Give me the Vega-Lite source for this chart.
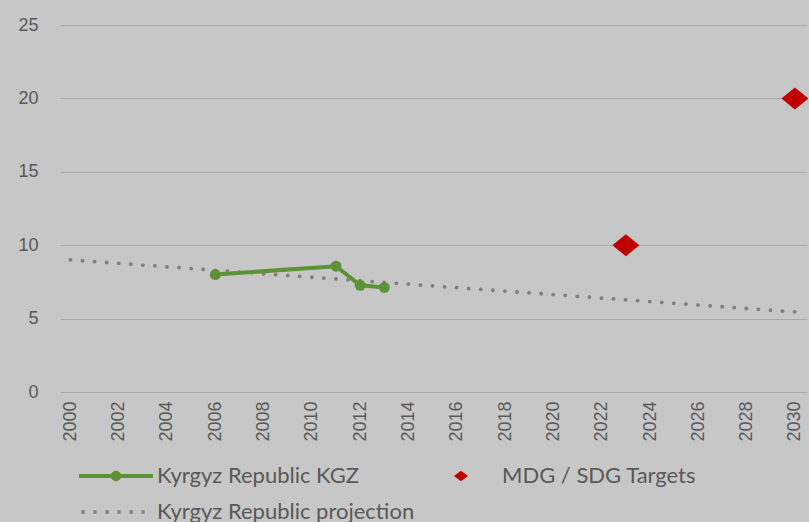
{
  "$schema": "https://vega.github.io/schema/vega-lite/v6.json",
  "width": 747,
  "height": 367,
  "autosize": {"type": "none"},
  "padding": {"left": 60, "top": 25, "right": 2, "bottom": 130},
  "background": "#c7c7c7",
  "config": {"view": {"stroke": null}, "font": "Liberation Sans"},
  "data": {
    "values": [
      {"series": "Kyrgyz Republic projection", "year": 2000, "value": 9.0},
      {"series": "Kyrgyz Republic projection", "year": 2030, "value": 5.45},
      {"series": "Kyrgyz Republic KGZ", "year": 2006, "value": 8.0},
      {"series": "Kyrgyz Republic KGZ", "year": 2011, "value": 8.57},
      {"series": "Kyrgyz Republic KGZ", "year": 2012, "value": 7.27},
      {"series": "Kyrgyz Republic KGZ", "year": 2013, "value": 7.12},
      {"series": "MDG / SDG Targets", "year": 2023, "value": 10},
      {"series": "MDG / SDG Targets", "year": 2030, "value": 20}
    ]
  },
  "encoding": {
    "x": {
      "field": "year",
      "type": "quantitative",
      "scale": {"domain": [1999.57, 2030.5], "nice": false, "zero": false},
      "axis": {
        "title": null,
        "values": [2000, 2002, 2004, 2006, 2008, 2010, 2012, 2014, 2016, 2018, 2020, 2022, 2024, 2026, 2028, 2030],
        "format": "d",
        "labelAngle": -90,
        "labelPadding": 9,
        "labelFontSize": 18,
        "labelColor": "#595959",
        "grid": false,
        "domain": false,
        "ticks": false
      }
    },
    "y": {
      "field": "value",
      "type": "quantitative",
      "scale": {"domain": [0, 25], "nice": false},
      "axis": {
        "title": null,
        "values": [0, 5, 10, 15, 20, 25],
        "labelPadding": 22,
        "labelFontSize": 18,
        "labelColor": "#595959",
        "grid": true,
        "gridColor": "#a9a9a9",
        "gridWidth": 1.2,
        "domain": false,
        "ticks": false
      }
    },
    "color": {
      "field": "series",
      "type": "nominal",
      "scale": {
        "domain": ["Kyrgyz Republic KGZ", "MDG / SDG Targets", "Kyrgyz Republic projection"],
        "range": ["#5e9237", "#c00000", "#808080"]
      },
      "legend": {
        "title": null,
        "orient": "none",
        "legendX": 19,
        "legendY": 439,
        "direction": "horizontal",
        "columns": 2,
        "padding": 0,
        "symbolSize": 5476,
        "symbolStrokeWidth": 0,
        "clipHeight": 24,
        "rowPadding": 12,
        "columnPadding": 9,
        "labelOffset": 4,
        "labelFont": "Lato",
        "labelFontSize": 22,
        "labelColor": "#595959",
        "labelLimit": 400,
        "encode": {
          "symbols": {
            "update": {
              "shape": {"signal": "datum.value === 'Kyrgyz Republic KGZ' ? 'M-1,-0.054H1V0.054H-1Z M-0.14,0A0.14,0.14 0 1,1 0.14,0A0.14,0.14 0 1,1 -0.14,0Z' : datum.value === 'MDG / SDG Targets' ? 'M-0.19,0L0,-0.14L0.19,0L0,0.14Z' : 'M-0.935,-0.045h0.09v0.09h-0.09Z M-0.615,-0.045h0.09v0.09h-0.09Z M-0.285,-0.045h0.09v0.09h-0.09Z M0.035,-0.045h0.09v0.09h-0.09Z M0.365,-0.045h0.09v0.09h-0.09Z M0.685,-0.045h0.09v0.09h-0.09Z'"},
              "size": {"value": 5476},
              "strokeWidth": {"value": 0},
              "opacity": {"value": 1}
            }
          }
        }
      }
    }
  },
  "layer": [
    {
      "transform": [{"filter": "datum.series === 'Kyrgyz Republic projection'"}],
      "mark": {"type": "line", "strokeWidth": 3.8, "strokeCap": "round", "strokeDash": [0.1, 12]}
    },
    {
      "transform": [{"filter": "datum.series === 'Kyrgyz Republic KGZ'"}],
      "mark": {"type": "line", "strokeWidth": 4}
    },
    {
      "transform": [{"filter": "datum.series === 'Kyrgyz Republic KGZ'"}],
      "mark": {"type": "point", "shape": "circle", "filled": true, "opacity": 1, "size": 120, "strokeWidth": 0}
    },
    {
      "transform": [{"filter": "datum.series === 'MDG / SDG Targets'"}],
      "mark": {"type": "point", "shape": "M-2.7,0L0,-2.2L2.7,0L0,2.2Z", "filled": true, "opacity": 1, "size": 100, "strokeWidth": 0}
    }
  ]
}
